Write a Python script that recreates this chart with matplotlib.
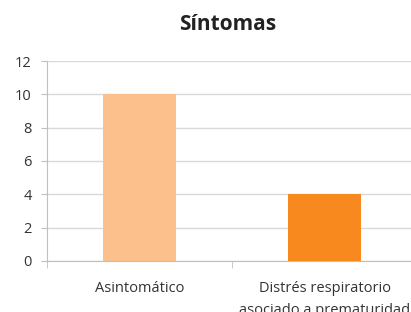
import matplotlib
matplotlib.use("Agg")
from matplotlib import pyplot as plt

categories = ["Asintomático", "Distrés respiratorio\nasociado a prematuridad"]
values = [10, 4]
bar_colors = ["#FBC08B", "#F7891F"]
y_ticks = [0, 2, 4, 6, 8, 10, 12]

plt.rcParams['font.family'] = ['Open Sans', 'DejaVu Sans']

fig = plt.figure(figsize=(4.11, 3.12), dpi=100)
# the original picture is cropped on the right, so the axes run past the edge
ax = fig.add_axes([47 / 411, 51 / 312, 370 / 411, 200 / 312])

x = list(range(len(categories)))
ax.bar(x, values, width=0.39, color=bar_colors, zorder=3)

ax.set_xlim(-0.5, len(categories) - 0.5)
ax.set_ylim(0, 12)
ax.set_yticks(y_ticks)
ax.yaxis.grid(True, color="#d9d9d9", linewidth=1, zorder=0)

ax.set_xticks(x)
ax.set_xticklabels(categories, fontsize=10.5, color="#333333", linespacing=1.6)
ax.set_xticks([i - 0.5 for i in range(len(categories) + 1)], minor=True)
ax.tick_params(axis="x", which="major", length=0, pad=14.5)
ax.tick_params(axis="x", which="minor", length=5, color="#bfbfbf")
ax.tick_params(axis="y", length=4, color="#bfbfbf", labelsize=10.5, labelcolor="#333333", pad=7)

for side in ["top", "right"]:
    ax.spines[side].set_visible(False)
for side in ["left", "bottom"]:
    ax.spines[side].set_color("#bfbfbf")

fig.text(227.5 / 411, 1 - 24 / 312, "Síntomas", ha="center", va="center",
         fontsize=15, fontweight="bold", color="#222222")

fig.savefig("out.png", dpi=100)
